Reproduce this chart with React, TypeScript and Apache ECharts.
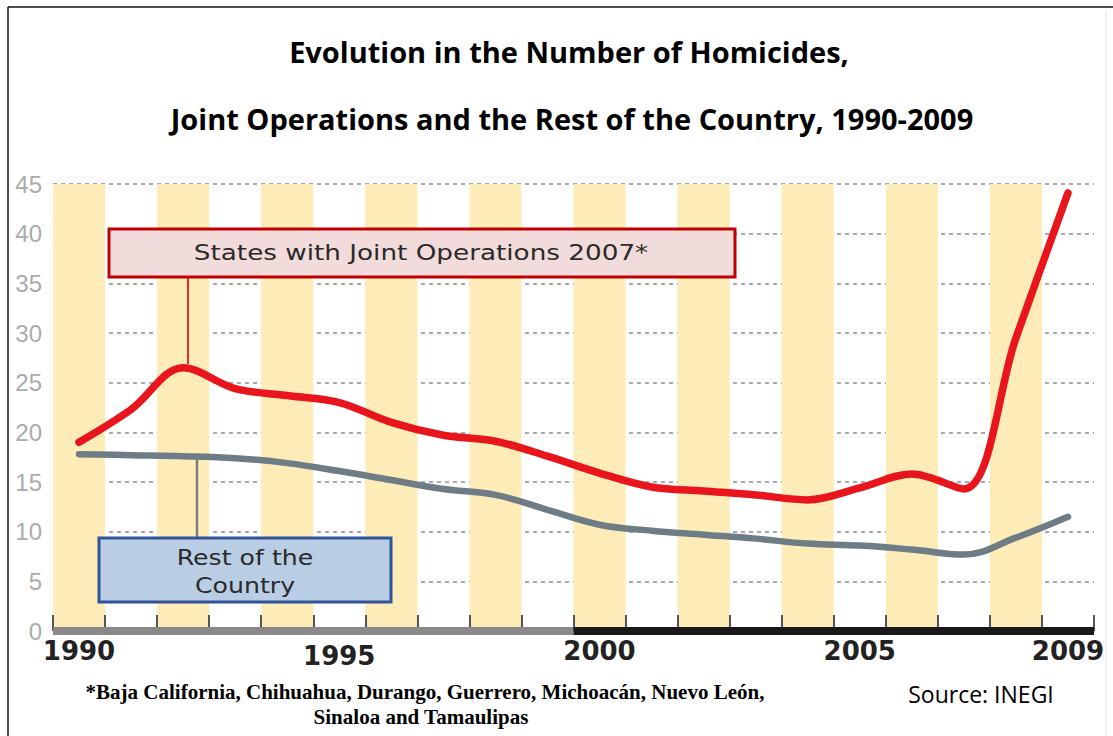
import React, { useEffect, useRef } from "react";
import * as echarts from "echarts";

const years = [
  "1990", "1991", "1992", "1993", "1994", "1995", "1996", "1997", "1998", "1999",
  "2000", "2001", "2002", "2003", "2004", "2005", "2006", "2007", "2008", "2009",
];
const jointOperations = [
  19.0, 22.3, 26.5, 24.4, 23.7, 23.0, 21.0, 19.7, 19.1, 17.6,
  15.9, 14.5, 14.1, 13.7, 13.2, 14.4, 15.8, 14.3, 29.5, 44.1,
];
const restOfCountry = [
  17.8, 17.7, 17.6, 17.4, 16.9, 16.1, 15.2, 14.3, 13.7, 12.2,
  10.7, 10.1, 9.7, 9.3, 8.8, 8.6, 8.2, 7.7, 9.4, 11.5,
];
const labelledYears = ["1990", "1995", "2000", "2005", "2009"];
const axisBarGray = [[0, 0], [10, 0]];
const axisBarBlack = [[10, 0], [20, 0]];

const titleLine1 = "Evolution in the Number of Homicides,";
const titleLine2 = "Joint Operations and the Rest of the Country, 1990-2009";
const footLine1 = "*Baja California, Chihuahua, Durango, Guerrero, Michoacán, Nuevo León,";
const footLine2 = "Sinaloa and Tamaulipas";
const sourceText = "Source: INEGI";
const jointLabel = "States with Joint Operations 2007*";
const restLabel = "Rest of the\nCountry";

export default function App() {
  const ref = useRef<HTMLDivElement>(null);
  useEffect(() => {
    if (!ref.current) return;
    const chart = echarts.init(ref.current, undefined, { renderer: "svg" });
    chart.setOption({
      animation: false,
      backgroundColor: "#ffffff",
      grid: { left: 53, right: 19, top: 184, bottom: 105, containLabel: false },
      xAxis: [
        {
          type: "category",
          data: years,
          boundaryGap: true,
          axisLine: { show: false },
          axisTick: {
            show: true,
            inside: true,
            length: 16,
            interval: 0,
            lineStyle: { color: "#555", width: 2 },
          },
          axisLabel: {
            interval: (_i: number, v: string) => labelledYears.includes(v),
            formatter: (v: string) => (v === "1995" ? "{low|1995}" : v),
            color: "#222",
            fontFamily: "DejaVu Sans",
            fontWeight: "bold",
            fontSize: 26,
            margin: 7,
            rich: {
              low: {
                color: "#222",
                fontFamily: "DejaVu Sans",
                fontWeight: "bold",
                fontSize: 26,
                padding: [5, 0, 0, 0],
              },
            },
          },
          splitLine: { show: false },
          splitArea: {
            show: true,
            interval: 0,
            areaStyle: { color: ["#FDEBB8", "rgba(255,255,255,0)"] },
          },
        },
        { type: "value", min: 0, max: 20, show: false },
      ],
      yAxis: {
        type: "value",
        min: 0,
        max: 45,
        interval: 5,
        axisLine: { show: false },
        axisTick: { show: false },
        axisLabel: {
          color: "#ababab",
          fontFamily: "Liberation Sans",
          fontSize: 24,
          margin: 11,
        },
        splitLine: {
          show: true,
          lineStyle: { color: "#a8a8b0", width: 2, type: [4, 4] },
        },
      },
      series: [
        {
          name: "Axis gray",
          type: "line",
          xAxisIndex: 1,
          data: axisBarGray,
          symbol: "none",
          silent: true,
          lineStyle: { color: "#8a8a8a", width: 8 },
          z: 3,
        },
        {
          name: "Axis black",
          type: "line",
          xAxisIndex: 1,
          data: axisBarBlack,
          symbol: "none",
          silent: true,
          lineStyle: { color: "#1a1a1a", width: 8 },
          z: 3,
        },
        {
          name: "Rest of the Country",
          type: "line",
          data: restOfCountry,
          smooth: 0.4,
          symbol: "none",
          lineStyle: { color: "#6e7c86", width: 6.5, cap: "round" },
          z: 4,
        },
        {
          name: "States with Joint Operations 2007*",
          type: "line",
          data: jointOperations,
          smooth: 0.35,
          symbol: "none",
          lineStyle: { color: "#e8161c", width: 7.5, cap: "round" },
          z: 5,
        },
      ],
      graphic: [
        { type: "line", shape: { x1: 8, y1: 7, x2: 1113, y2: 7 }, style: { stroke: "#111", lineWidth: 1.5 } },
        { type: "line", shape: { x1: 8, y1: 7, x2: 8, y2: 736 }, style: { stroke: "#111", lineWidth: 1.5 } },
        { type: "line", shape: { x1: 1106, y1: 10, x2: 1106, y2: 736 }, style: { stroke: "#e6e6e6", lineWidth: 1 } },
        {
          type: "text",
          x: 569,
          y: 51,
          style: { text: titleLine1, fontFamily: "Open Sans", fontWeight: "bold", fontSize: 29, fill: "#000", textAlign: "center", textVerticalAlign: "middle" },
        },
        {
          type: "text",
          x: 572,
          y: 118,
          style: { text: titleLine2, fontFamily: "Open Sans", fontWeight: "bold", fontSize: 29, fill: "#000", textAlign: "center", textVerticalAlign: "middle" },
        },
        { type: "line", z: 20, shape: { x1: 188, y1: 277, x2: 188, y2: 364 }, style: { stroke: "#e0302c", lineWidth: 2 } },
        {
          type: "rect",
          z: 20,
          shape: { x: 109, y: 229, width: 626, height: 48 },
          style: { fill: "#F2DCDB", stroke: "#C00000", lineWidth: 3 },
        },
        {
          type: "text",
          z: 21,
          x: 421,
          y: 253,
          scaleX: 1.25,
          style: { text: jointLabel, fontFamily: "DejaVu Sans", fontSize: 21, fill: "#2a2a2a", textAlign: "center", textVerticalAlign: "middle" },
        },
        { type: "line", z: 20, shape: { x1: 197, y1: 456, x2: 197, y2: 537 }, style: { stroke: "#7d7d7d", lineWidth: 2.5 } },
        {
          type: "rect",
          z: 20,
          shape: { x: 99, y: 538, width: 292, height: 64 },
          style: { fill: "#B9CDE5", stroke: "#2F5597", lineWidth: 3 },
        },
        {
          type: "text",
          z: 21,
          x: 245,
          y: 571,
          scaleX: 1.2,
          style: { text: restLabel, fontFamily: "DejaVu Sans", fontSize: 21, lineHeight: 28, fill: "#2a2a2a", textAlign: "center", textVerticalAlign: "middle" },
        },
        {
          type: "text",
          x: 425,
          y: 692,
          style: { text: footLine1, fontFamily: "Liberation Serif", fontWeight: "bold", fontSize: 21, fill: "#000", textAlign: "center", textVerticalAlign: "middle" },
        },
        {
          type: "text",
          x: 421,
          y: 717,
          style: { text: footLine2, fontFamily: "Liberation Serif", fontWeight: "bold", fontSize: 21, fill: "#000", textAlign: "center", textVerticalAlign: "middle" },
        },
        {
          type: "text",
          x: 981,
          y: 694,
          style: { text: sourceText, fontFamily: "Open Sans", fontSize: 23, fill: "#000", textAlign: "center", textVerticalAlign: "middle" },
        },
      ],
    });
    return () => chart.dispose();
  }, []);
  return (
    <div
      ref={ref}
      style={{ position: "fixed", left: 0, top: 0, width: 1113, height: 736, background: "#fff" }}
    />
  );
}
